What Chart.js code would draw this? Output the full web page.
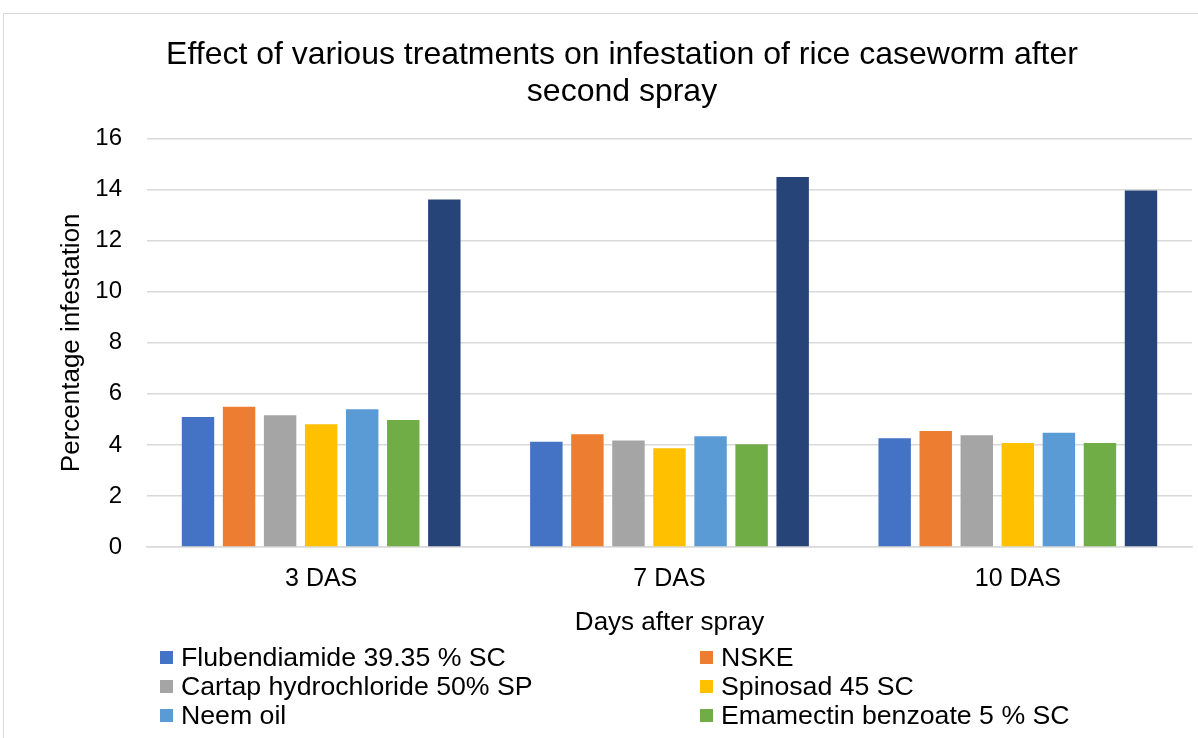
<!DOCTYPE html>
<html>
<head>
<meta charset="utf-8">
<script src="https://cdn.jsdelivr.net/npm/chart.js@4"></script>
<style>
  html, body { margin: 0; padding: 0; background: #fff; overflow: hidden; }
  #wrap { position: relative; width: 1198px; height: 738px; }
  #frame { position: absolute; left: 3px; top: 13px; width: 1300px; height: 900px; border: 1px solid #d9d9d9; }
  canvas { position: absolute; left: 0; top: 0; }
  #legend { position: absolute; left: 160px; top: 643px; width: 1030px;
    display: grid; grid-template-columns: 540px 490px; grid-auto-rows: 29px;
    font-family: "Liberation Sans", Arial, sans-serif; font-size: 26.7px; color: #000; }
  #legend div { display: flex; align-items: center; white-space: nowrap; }
  #legend span.box { display: inline-block; width: 13px; height: 13px; margin-right: 8px; }
</style>
</head>
<body>
<div id="wrap">
  <div id="frame"></div>
  <canvas id="chart" width="1198" height="738"></canvas>
  <div id="legend"></div>
</div>
<script>
const categories = ['3 DAS', '7 DAS', '10 DAS'];
const seriesNames = [
  'Flubendiamide 39.35 % SC',
  'NSKE',
  'Cartap hydrochloride 50% SP',
  'Spinosad 45 SC',
  'Neem oil',
  'Emamectin benzoate 5 % SC',
  'Untreated control'
];
const flubendiamide = [5.09, 4.12, 4.26];
const nske = [5.49, 4.42, 4.54];
const cartap = [5.16, 4.17, 4.38];
const spinosad = [4.81, 3.87, 4.07];
const neemOil = [5.40, 4.34, 4.48];
const emamectin = [4.98, 4.03, 4.07];
const control = [13.61, 14.50, 13.97];
const yTicks = [0, 2, 4, 6, 8, 10, 12, 14, 16];

const colors = ['#4472C4', '#ED7D31', '#A5A5A5', '#FFC000', '#5B9BD5', '#70AD47', '#264478'];
const seriesValues = [flubendiamide, nske, cartap, spinosad, neemOil, emamectin, control];

// only the first six entries are visible in the legend (the rest is cut off)
const legendCount = 6;

const font = 'Liberation Sans';

let config = {
  type: 'bar',
  data: {
    labels: categories,
    datasets: seriesValues.map((vals, i) => ({
      label: seriesNames[i],
      data: vals,
      backgroundColor: colors[i],
      categoryPercentage: 0.825,
      barPercentage: 0.79
    }))
  },
  options: {
    responsive: false,
    animation: false,
    layout: { padding: { left: 52, right: 6, top: 0, bottom: 96 } },
    plugins: {
      legend: { display: false },
      tooltip: { enabled: false },
      title: {
        display: true,
        text: ['Effect of various treatments on infestation of rice caseworm after', 'second spray'],
        color: '#000',
        font: { family: font, size: 32, weight: 'normal', lineHeight: 1.15 },
        padding: { top: 37, bottom: 28 }
      }
    },
    scales: {
      x: {
        grid: { display: false, drawTicks: false },
        border: { display: true, color: '#d9d9d9', width: 1.5 },
        ticks: { color: '#000', font: { family: font, size: 25 }, padding: 17 },
        title: {
          display: true,
          text: 'Days after spray',
          color: '#000',
          font: { family: font, size: 26 }
        },
        afterFit: (s) => { s.height = 95; }
      },
      y: {
        min: 0,
        max: 16,
        afterBuildTicks: (s) => { s.ticks = yTicks.map(v => ({ value: v })); },
        grid: { color: '#d9d9d9', lineWidth: 1.5, drawTicks: false },
        border: { display: false },
        ticks: { color: '#000', font: { family: font, size: 24 }, padding: 25 },
        title: {
          display: true,
          text: 'Percentage infestation',
          color: '#000',
          font: { family: font, size: 26 }
        },
        afterFit: (s) => { s.width = 95; }
      }
    }
  }
};

let ctx = document.getElementById('chart').getContext('2d');
window.myBar = new Chart(ctx, config);

// legend in two columns, built from the series names
const legendEl = document.getElementById('legend');
seriesNames.slice(0, legendCount).forEach((name, i) => {
  const item = document.createElement('div');
  item.innerHTML = '<span class="box" style="background:' + colors[i] + '"></span>' + name;
  legendEl.appendChild(item);
});
</script>
</body>
</html>
